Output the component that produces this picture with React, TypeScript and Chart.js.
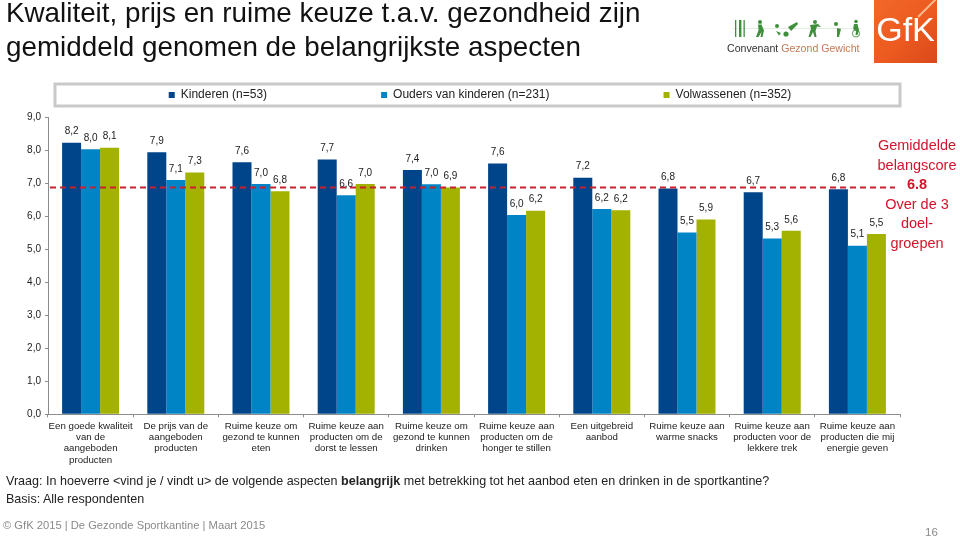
import React, { useEffect, useRef } from "react";
import { Chart, registerables } from "chart.js";

Chart.register(...registerables);

const categories: string[][] = [
  ["Een goede kwaliteit", "van de", "aangeboden", "producten"],
  ["De prijs van de", "aangeboden", "producten"],
  ["Ruime keuze om", "gezond te kunnen", "eten"],
  ["Ruime keuze aan", "producten om de", "dorst te lessen"],
  ["Ruime keuze om", "gezond te kunnen", "drinken"],
  ["Ruime keuze aan", "producten om de", "honger te stillen"],
  ["Een uitgebreid", "aanbod"],
  ["Ruime keuze aan", "warme snacks"],
  ["Ruime keuze aan", "producten voor de", "lekkere trek"],
  ["Ruime keuze aan", "producten die mij", "energie geven"],
];
const kinderen = [8.23, 7.94, 7.64, 7.72, 7.4, 7.6, 7.17, 6.84, 6.73, 6.82];
const ouders = [8.03, 7.1, 6.98, 6.64, 6.97, 6.04, 6.22, 5.51, 5.33, 5.11];
const volwassenen = [8.08, 7.33, 6.76, 6.98, 6.87, 6.17, 6.18, 5.9, 5.56, 5.46];
const seriesNames = ["Kinderen (n=53)", "Ouders van kinderen (n=231)", "Volwassenen (n=352)"];
const averageScore = 6.87;
const titleLines = [
  "Kwaliteit, prijs en ruime keuze t.a.v. gezondheid zijn",
  "gemiddeld genomen de belangrijkste aspecten",
];

const FONT = "'Liberation Sans', Arial, sans-serif";
const comma = (v: number) => v.toFixed(1).replace(".", ",");

const layoutPlugin = {
  id: "legendPlacement",
  afterLayout(chart: any) {
    const legend = chart.legend;
    const pad = legend.options.labels.padding;
    legend.left = 0;
    legend.right = 960;
    legend.top = 89 - pad;
    legend.bottom = 120;
  },
  beforeDraw(chart: any) {
    const c = chart.ctx;
    c.save();
    c.strokeStyle = "#c9c9c9";
    c.lineWidth = 3;
    c.strokeRect(55, 84, 845, 22);
    c.restore();
  },
};

const overlayPlugin = {
  id: "overlays",
  afterDatasetsDraw(chart: any) {
    const c = chart.ctx;
    const y = chart.scales.y.getPixelForValue(averageScore);
    c.save();
    c.strokeStyle = "#c9202f";
    c.lineWidth = 2;
    c.setLineDash([6, 4]);
    c.beginPath();
    c.moveTo(chart.chartArea.left + 2, y);
    c.lineTo(chart.chartArea.right - 5, y);
    c.stroke();
    c.setLineDash([]);
    c.fillStyle = "#222";
    c.font = `10px ${FONT}`;
    c.textAlign = "center";
    c.textBaseline = "middle";
    chart.data.datasets.forEach((ds: any, i: number) => {
      chart.getDatasetMeta(i).data.forEach((el: any, j: number) => {
        c.fillText(comma(ds.data[j]), el.x, el.y - 11);
      });
    });
    c.restore();
  },
};

const abs = (left: number, top: number, extra: React.CSSProperties = {}): React.CSSProperties => ({
  position: "absolute",
  left,
  top,
  whiteSpace: "nowrap",
  fontFamily: FONT,
  ...extra,
});

const noteLines = ["Gemiddelde", "belangscore", "6.8", "Over de 3", "doel-", "groepen"];

function Logos() {
  return (
    <>
      <svg style={{ position: "absolute", left: 730, top: 18, width: 135, height: 22 }} viewBox="0 0 135 22">
        <rect x="3" y="10" width="128" height="0.6" fill="#cfe3cc" />
        <g fill="#3f8f3c">
          <rect x="5" y="2" width="1.3" height="17" />
          <rect x="9" y="2" width="2.4" height="17" />
          <rect x="13.5" y="2" width="1.3" height="17" />
          <circle cx="30" cy="4" r="2" />
          <path d="M28 6.5h3.5l2.5 6-1.5 6.5h-2l1-5-3 5h-2.5l2.6-7z" />
          <circle cx="47" cy="8" r="2" />
          <circle cx="56" cy="16" r="2.6" />
          <path d="M46 13l5 2-2 2.5zM58 9l9-5 1 2-7 7z" />
          <circle cx="85" cy="4" r="2" />
          <path d="M80 7l8-1 3 3-4-.5-1.5 4.5 1 6h-2l-1.5-5-2.5 5h-2l2.5-8.5z" />
          <circle cx="106" cy="6" r="2" />
          <path d="M107 10l4 1-2 8h-2z" />
          <circle cx="126" cy="3.5" r="1.8" />
          <path d="M124 6h3.5l1.5 6-1.5 5h-2l.6-4-3-2z" />
        </g>
        <circle cx="126" cy="15.5" r="3.6" fill="none" stroke="#3f8f3c" strokeWidth="0.9" />
      </svg>
      <div style={abs(727, 40, { fontSize: 10.6, lineHeight: "16px", color: "#333" })}>
        Convenant <span style={{ color: "#c67a55" }}>Gezond Gewicht</span>
      </div>
      <div
        style={abs(874, 0, {
          width: 63,
          height: 63,
          overflow: "hidden",
          background: "linear-gradient(135deg,#f2682a 0%,#ec5a20 55%,#d9481a 100%)",
          color: "#fff",
          fontSize: 34,
          lineHeight: "58px",
          textAlign: "center",
        })}
      >
        GfK
        <div style={{ position: "absolute", left: 38, top: 2, width: 40, height: 1.5, background: "#f9b98f", transform: "rotate(-45deg)" }} />
      </div>
    </>
  );
}

export default function App() {
  const ref = useRef<HTMLCanvasElement>(null);
  useEffect(() => {
    const chart = new Chart(ref.current as HTMLCanvasElement, {
      type: "bar",
      data: {
        labels: categories,
        datasets: [
          { label: seriesNames[0], data: kinderen, backgroundColor: "#004489" },
          { label: seriesNames[1], data: ouders, backgroundColor: "#0084c6" },
          { label: seriesNames[2], data: volwassenen, backgroundColor: "#a3b100" },
        ],
      },
      options: {
        responsive: false,
        animation: false,
        layout: { padding: { left: 6, right: 60, top: 0, bottom: 62.7 } },
        datasets: { bar: { barPercentage: 1, categoryPercentage: 0.669 } },
        plugins: {
          tooltip: { enabled: false },
          title: {
            display: true,
            text: titleLines,
            align: "start",
            color: "#111",
            font: { family: FONT, size: 27.8, weight: "normal", lineHeight: 1.223 },
            padding: { top: -2.7, bottom: 51 },
          },
          legend: {
            display: true,
            position: "top",
            maxHeight: 1,
            labels: {
              color: "#222",
              font: { family: FONT, size: 12 },
              boxWidth: 6,
              boxHeight: 6,
              padding: 114,
            },
          },
        },
        scales: {
          x: {
            afterFit: (s: any) => { s.height = 60; },
            border: { color: "#8c8c8c" },
            grid: { drawOnChartArea: false, drawTicks: true, tickLength: 3, color: "#8c8c8c" },
            ticks: {
              autoSkip: false,
              maxRotation: 0,
              padding: 3,
              color: "#222",
              font: { family: FONT, size: 9.7, lineHeight: 1.175 },
            },
          },
          y: {
            min: 0,
            max: 9,
            afterFit: (s: any) => { s.width = 42; },
            border: { color: "#8c8c8c" },
            grid: { drawOnChartArea: false, drawTicks: true, tickLength: 3, color: "#8c8c8c" },
            ticks: {
              stepSize: 1,
              padding: 4,
              color: "#222",
              font: { family: FONT, size: 10 },
              callback: (v: any) => comma(Number(v)),
            },
          },
        },
      } as any,
      plugins: [layoutPlugin, overlayPlugin],
    });
    return () => chart.destroy();
  }, []);

  return (
    <div style={{ position: "absolute", left: 0, top: 0, width: 960, height: 537, overflow: "hidden", background: "#fff" }}>
      <canvas ref={ref} width={960} height={537} style={{ display: "block" }} />
      <Logos />
      <div style={abs(877, 136, { width: 80, textAlign: "center", color: "#d2142b", fontSize: 14.5, lineHeight: "19.6px" })}>
        {noteLines.map((t, i) => (
          <div key={t} style={{ fontWeight: i === 2 ? "bold" : "normal" }}>{t}</div>
        ))}
      </div>
      <div style={abs(6, 473, { fontSize: 12.55, lineHeight: "16px", color: "#222" })}>
        Vraag: In hoeverre &lt;vind je / vindt u&gt; de volgende aspecten <b>belangrijk</b> met betrekking tot het aanbod eten en drinken in de sportkantine?
      </div>
      <div style={abs(6, 491, { fontSize: 12.55, lineHeight: "16px", color: "#222" })}>Basis: Alle respondenten</div>
      <div style={abs(3, 518, { fontSize: 11.2, lineHeight: "14px", color: "#8a8a8a" })}>
        © GfK 2015 | De Gezonde Sportkantine | Maart 2015
      </div>
      <div style={abs(925, 525, { fontSize: 11.5, lineHeight: "14px", color: "#8a8a8a" })}>16</div>
    </div>
  );
}
